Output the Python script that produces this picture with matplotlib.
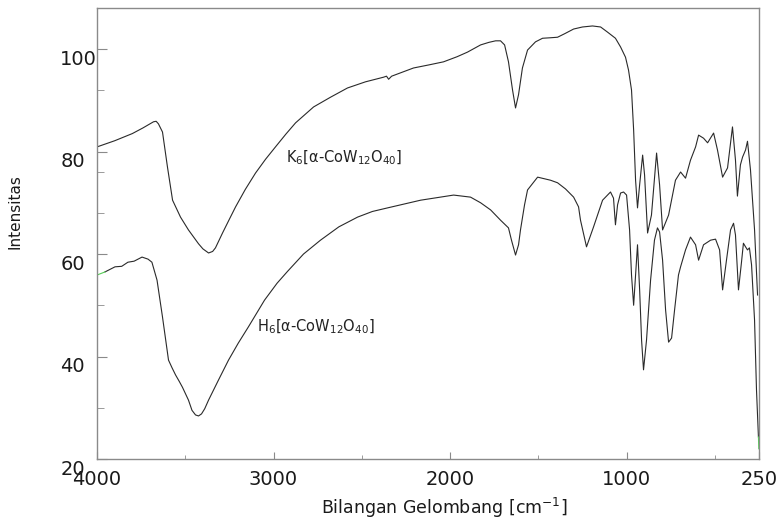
import numpy as np
import matplotlib
matplotlib.use('Agg')
import matplotlib.pyplot as plt
from matplotlib.transforms import ScaledTranslation

# IR spectra (wavenumber cm-1, intensity)
k6_wn = [4000, 3900, 3800, 3740, 3700, 3680, 3665, 3652, 3629, 3601, 3572, 3527, 3482, 3425,
         3400, 3368, 3345, 3329, 3289, 3250, 3215, 3160, 3102, 3045, 2989, 2930, 2875, 2773,
         2677, 2581, 2479, 2377, 2360, 2348, 2331, 2207, 2120, 2037, 1960, 1901, 1827, 1780,
         1742, 1714, 1691, 1669, 1646, 1629, 1612, 1590, 1561, 1516, 1476, 1430, 1391, 1350,
         1300, 1250, 1193, 1147, 1108, 1063, 1034, 1006, 989, 972, 966, 960, 949,
         938, 926, 909, 898, 881, 859, 830, 813, 796, 762, 723, 694, 666, 638, 609, 592,
         564, 541, 507, 485, 456, 428, 400, 383, 372, 355, 343, 326, 315, 298, 275, 258]
k6_int = [80.9, 82.1, 83.5, 84.6, 85.4, 85.8, 85.9, 85.4, 83.8, 77.0, 70.5, 67.2, 64.7, 62.0,
          61.0, 60.2, 60.5, 61.2, 64.1, 66.8, 69.2, 72.6, 75.8, 78.5, 80.9, 83.4, 85.6, 88.7,
          90.6, 92.4, 93.6, 94.5, 94.7, 94.1, 94.7, 96.3, 96.9, 97.5, 98.5, 99.4, 100.8, 101.3,
          101.6, 101.6, 100.8, 97.5, 92.0, 88.5, 91.1, 96.3, 99.8, 101.4, 102.1, 102.2, 102.3, 103.0,
          103.9, 104.3, 104.5, 104.3, 103.3, 102.1, 100.4, 98.4, 95.9, 92.0, 88.1, 84.2, 74.4,
          69.0, 73.5, 79.3, 75.4, 64.1, 67.6, 79.7, 73.5, 64.7, 67.6, 74.4, 76.0, 74.8, 78.3, 80.9, 83.2,
          82.6, 81.7, 83.6, 80.3, 75.0, 76.8, 84.8, 78.3, 71.3, 77.4, 78.9, 80.3, 82.0, 76.4, 64.7, 52.0]

h6_wn = [4000, 3955, 3898, 3860, 3825, 3790, 3745, 3711, 3689, 3660, 3629, 3595, 3575, 3555,
         3535, 3516, 3482, 3462, 3442, 3425, 3408, 3390, 3368, 3312, 3255, 3200, 3142, 3051,
         2980, 2921, 2830, 2734, 2630, 2524, 2440, 2354, 2167,
         1980, 1884, 1827, 1770, 1714, 1669, 1652, 1629, 1612, 1601, 1578, 1561, 1504,
         1431, 1391, 1346, 1300, 1272, 1261, 1227, 1187, 1136, 1091, 1074, 1063, 1051,
         1034, 1017, 1000, 983, 972, 960, 949, 938, 926, 915, 904, 887, 864, 842, 825,
         813, 796, 779, 762, 745, 728, 706, 694, 666, 638, 609, 592, 564, 524, 496, 473,
         456, 434, 411, 394, 383, 366, 349, 338, 326, 315, 304, 292, 275, 264, 253]
h6_int = [55.9, 56.5, 57.5, 57.6, 58.4, 58.6, 59.4, 59.0, 58.4, 54.9, 47.7, 39.3, 37.8, 36.4,
          35.2, 34.0, 31.5, 29.5, 28.6, 28.4, 28.8, 29.8, 31.5, 35.4, 39.3, 42.6, 45.8, 51.0,
          54.3, 56.6, 60.0, 62.7, 65.3, 67.2, 68.3, 69.0, 70.5,
          71.5, 71.1, 70.0, 68.6, 66.6, 65.1, 62.7, 59.8, 61.8, 64.7, 69.6, 72.5, 75.0,
          74.4, 73.9, 72.7, 71.1, 69.2, 66.6, 61.4, 65.3, 70.5, 72.1, 70.9, 65.7, 69.6,
          71.9, 72.1, 71.5, 64.7, 55.9, 50.0, 55.9, 61.8, 53.0, 43.2, 37.4, 43.2, 54.9, 62.7, 65.1,
          64.3, 58.8, 49.1, 42.8, 43.6, 49.1, 55.9, 57.5, 60.8, 63.3, 61.8, 58.8, 61.8, 62.7, 62.9, 60.8,
          53.0, 58.8, 64.7, 66.0, 63.7, 53.0, 58.4, 62.1, 61.4, 60.8, 61.2, 57.9, 47.1, 33.5, 24.3]

label_k6 = r'K$_6$[α-CoW$_{12}$O$_{40}$]'
label_h6 = r'H$_6$[α-CoW$_{12}$O$_{40}$]'

plt.rcParams['font.family'] = ['DejaVu Sans']

fig = plt.figure(figsize=(7.83, 5.21), dpi=100)
ax = fig.add_axes([0.1239, 0.119, 0.8454, 0.8656])

line_col = '#2a2a2a'
ax.plot(k6_wn, k6_int, color=line_col, lw=0.8)
ax.plot(h6_wn[1:], h6_int[1:], color=line_col, lw=0.8)
# little green ends as in the original
ax.plot(h6_wn[:2], h6_int[:2], color='#55cc55', lw=0.8)
ax.plot([h6_wn[-1], 251], [h6_int[-1], 22], color='#55cc55', lw=0.8)

ax.text(2932, 78.7, label_k6, fontsize=10.5, va='center', ha='left', color='#222222')
ax.text(3091, 45.8, label_h6, fontsize=10.5, va='center', ha='left', color='#222222')

ax.set_xlim(4000, 250)
ax.set_ylim(20, 108)
ax.set_xticks([4000, 3000, 2000, 1000, 250])
ax.set_xticklabels(['4000', '3000', '2000', '1000', '250'])
ax.set_xticks([3500, 2500, 1500, 500], minor=True)
ax.set_yticks([20, 40, 60, 80, 100])
ax.set_yticks([30, 50, 68, 76, 92], minor=True)

for s in ax.spines.values():
    s.set_color('#8a8a8a')
    s.set_linewidth(1.0)

ax.tick_params(axis='both', which='both', direction='in', color='#8a8a8a',
               labelsize=14, labelcolor='#1a1a1a')
ax.tick_params(axis='x', which='major', length=5, pad=8)
ax.tick_params(axis='x', which='minor', length=3)
ax.tick_params(axis='y', which='major', length=7, pad=26.5)
ax.tick_params(axis='y', which='minor', length=5)

offset = ScaledTranslation(0, -8 / 100, fig.dpi_scale_trans)
for lab in ax.get_yticklabels():
    lab.set_horizontalalignment('left')
    lab.set_transform(lab.get_transform() + offset)

ax.set_xlabel('Bilangan Gelombang [cm$^{-1}$]', fontsize=12.5, color='#1a1a1a')
ax.xaxis.set_label_coords(0.524, -0.082)
ax.set_ylabel('Intensitas', fontsize=11, color='#1a1a1a')
ax.yaxis.set_label_coords(-0.112, 0.548)

fig.savefig('out.png', dpi=100)
